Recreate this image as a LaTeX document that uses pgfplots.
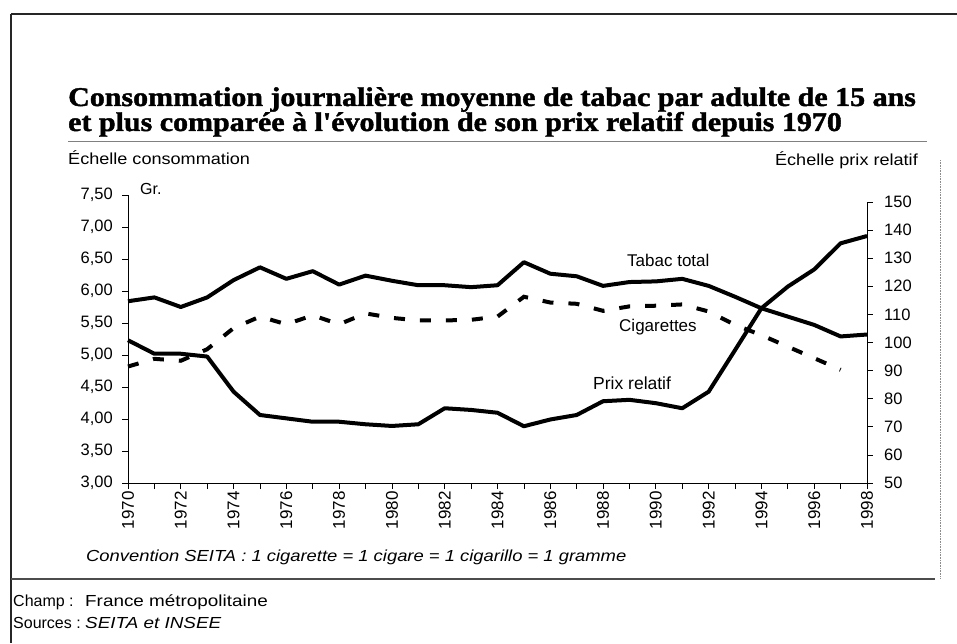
\documentclass[border=0pt]{standalone}
\usepackage{fontspec}
\setmainfont{Liberation Sans}
\newfontfamily\titlefont[FakeStretch=1.11, BoldFeatures={FakeBold=1.6}]{Liberation Serif}
\newfontfamily\widesans[FakeStretch=1.13]{Liberation Sans}
\newfontfamily\notesans[FakeStretch=1.18]{Liberation Sans}
\newfontfamily\convsans[FakeStretch=1.15]{Liberation Sans}
\usepackage{pgfplots}
\usepackage{pgfplotstable}
\pgfplotsset{compat=1.18}

\pgfplotstableread{
year tabac
1970 5.84
1971 5.90
1972 5.75
1973 5.90
1974 6.17
1975 6.37
1976 6.19
1977 6.31
1978 6.10
1979 6.24
1980 6.16
1981 6.09
1982 6.09
1983 6.06
1984 6.09
1985 6.45
1986 6.27
1987 6.23
1988 6.08
1989 6.14
1990 6.15
1991 6.19
1992 6.08
1993 5.91
1994 5.73
1995 5.60
1996 5.47
1997 5.29
1998 5.32
}\tabac

\pgfplotstableread{
year cig
1970 4.82
1971 4.94
1972 4.91
1973 5.09
1974 5.42
1975 5.60
1976 5.48
1977 5.62
1978 5.48
1979 5.65
1980 5.58
1981 5.54
1982 5.54
1983 5.55
1984 5.60
1985 5.91
1986 5.82
1987 5.80
1988 5.69
1989 5.76
1990 5.77
1991 5.79
1992 5.68
1993 5.47
1994 5.31
1995 5.13
1996 4.95
1997 4.77
}\cig

\pgfplotstableread{
year prix
1970 100.8
1971 96.0
1972 96.0
1973 95.0
1974 82.5
1975 74.2
1976 73.0
1977 71.8
1978 71.8
1979 70.9
1980 70.3
1981 70.9
1982 76.6
1983 76.0
1984 75.0
1985 70.2
1986 72.6
1987 74.2
1988 79.1
1989 79.6
1990 78.4
1991 76.6
1992 82.5
1993 97.3
1994 112.2
1995 119.9
1996 126.0
1997 135.3
1998 137.9
}\prix

\begin{document}
\begin{tikzpicture}[x=1pt,y=1pt]
\useasboundingbox (0,0) rectangle (957,643);
% frames
\draw[line width=2pt, black!85] (11,629) -- (957,629);
\draw[line width=2pt, black!85] (11,629) -- (11,0);
\draw[line width=0.9pt, black!50] (68,502) -- (927,502);
\draw[line width=1.2pt, black!70] (11,64) -- (935,64);
\draw[line width=0.6pt, black!45, densely dotted] (940,483) -- (940,64);

% title
\node[anchor=base west, inner sep=0pt, align=left] at (68,537)
  {\titlefont\bfseries\fontsize{27}{25}\selectfont Consommation journalière moyenne de tabac par adulte de 15 ans};
\node[anchor=base west, inner sep=0pt, align=left] at (68,512)
  {\titlefont\bfseries\fontsize{27}{25}\selectfont et plus comparée à l'évolution de son prix relatif depuis 1970};

\node[anchor=base west, inner sep=0pt] at (68,478) {\widesans\fontsize{16}{16}\selectfont Échelle consommation};
\node[anchor=base east, inner sep=0pt] at (918,477) {\widesans\fontsize{16}{16}\selectfont Échelle prix relatif};
\node[anchor=base west, inner sep=0pt] at (140,448) {\fontsize{16}{16}\selectfont Gr.};

\begin{axis}[
  at={(128pt,160pt)}, anchor=south west, scale only axis,
  width=739pt, height=288pt,
  xmin=1970, xmax=1998, ymin=3, ymax=7.5,
  axis y line*=left, axis x line*=bottom,
  axis line style={line width=0.8pt, black},
  xtick={1970,1972,...,1998}, minor xtick={1971,1973,...,1997},
  ytick={3,3.5,4,4.5,5,5.5,6,6.5,7,7.5},
  tick align=outside, major tick length=6pt, minor tick length=6pt,
  every tick/.style={black, line width=0.8pt},
  minor tick style={black, line width=0.8pt},
  /pgf/number format/assume math mode=true,
  /pgf/number format/1000 sep={},
  xticklabel style={rotate=90, anchor=east, font=\fontsize{17}{17}\selectfont, inner sep=2pt},
  yticklabel style={font=\fontsize{16.5}{16.5}\selectfont, inner sep=3pt, xshift=-6pt,
     /pgf/number format/.cd, fixed, fixed zerofill, precision=2, use comma, 1000 sep={}},
  clip=false,
]
\addplot[line width=4pt, black, line join=round] table[x=year,y=tabac] {\tabac};
\addplot[line width=4pt, black, dash pattern=on 11pt off 15pt] table[x=year,y=cig] {\cig};
\end{axis}

\begin{axis}[
  at={(128pt,160pt)}, anchor=south west, scale only axis,
  width=739pt, height=281pt,
  xmin=1970, xmax=1998, ymin=50, ymax=150,
  axis y line*=right, axis x line=none,
  axis line style={line width=0.8pt, black},
  ytick={50,60,...,150},
  tick align=outside, major tick length=6pt,
  every tick/.style={black, line width=0.8pt},
  /pgf/number format/assume math mode=true,
  yticklabel style={font=\fontsize{16.5}{16.5}\selectfont, inner sep=4pt, xshift=7pt},
  clip=false,
]
\addplot[line width=4pt, black, line join=round] table[x=year,y=prix] {\prix};
\end{axis}

\node[anchor=base west, inner sep=0pt] at (627,376) {\fontsize{17}{17}\selectfont Tabac total};
\node[anchor=base west, inner sep=0pt] at (619,312) {\fontsize{17}{17}\selectfont Cigarettes};
\node[anchor=base west, inner sep=0pt] at (593,254) {\fontsize{17.5}{17.5}\selectfont Prix relatif};

\node[anchor=base west, inner sep=0pt] at (86,82)
  {\convsans\fontsize{16}{16}\selectfont\itshape Convention SEITA : 1 cigarette = 1 cigare = 1 cigarillo = 1 gramme};
\node[anchor=base west, inner sep=0pt] at (13,37)
  {\fontsize{16}{16}\selectfont Champ :};
\node[anchor=base west, inner sep=0pt] at (85,37)
  {\notesans\fontsize{16}{16}\selectfont France métropolitaine};
\node[anchor=base west, inner sep=0pt] at (13,15)
  {\fontsize{16}{16}\selectfont Sources :};
\node[anchor=base west, inner sep=0pt] at (85,15)
  {\notesans\fontsize{16}{16}\selectfont\itshape SEITA et INSEE};
\end{tikzpicture}
\end{document}
